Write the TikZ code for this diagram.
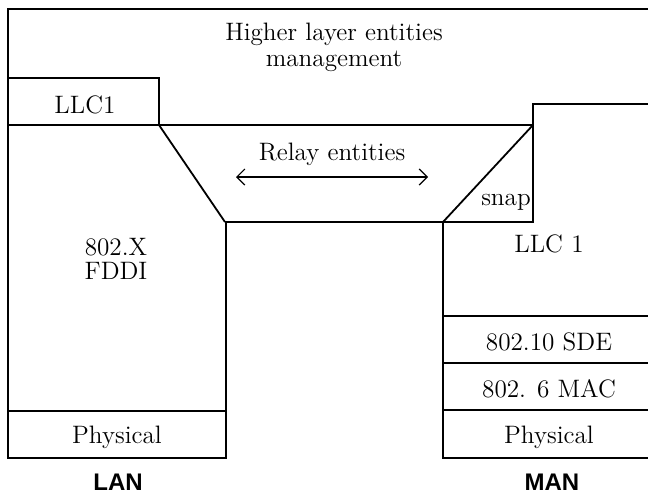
\documentclass[tikz,border=0pt]{standalone}
\usepackage{fontspec}
\newfontfamily\labfont{Liberation Sans}
\usetikzlibrary{arrows.meta}
\begin{document}
\begin{tikzpicture}[x=0.5pt,y=-0.5pt,
  frame/.style={line width=0.9pt,line join=miter},
  txt/.style={inner sep=0pt,anchor=base,font=\fontsize{12.6}{15}\selectfont},
  lab/.style={inner sep=0pt,anchor=base,font=\labfont\bfseries\fontsize{12}{14}\selectfont},
  relay/.style={line width=0.6pt,{Straight Barb[length=4pt,width=8pt]}-{Straight Barb[length=4pt,width=8pt]}}]
\useasboundingbox (0,0) rectangle (648,493);
% outer frame and layers
\draw[frame] (651,9) -- (8,9) -- (8,458) -- (226,458) -- (226,222) -- (533,222) -- (533,104) -- (651,104);
\draw[frame] (8,78) -- (159,78) -- (159,125);
\draw[frame] (8,125) -- (533,125);
\draw[frame] (159,125) -- (225,222);
\draw[frame] (533,125) -- (443,222);
\draw[frame] (8,411) -- (226,411);
\draw[frame] (443,222) -- (443,458) -- (651,458);
\draw[frame] (443,316) -- (651,316);
\draw[frame] (443,363) -- (651,363);
\draw[frame] (443,410) -- (651,410);
% texts
\node[txt] (hl1) at (334,40) {Higher layer entities};
\node[txt] (hl2) at (334,66) {management};
\node[txt] (llc1) at (85,113) {LLC1};
\node[txt] (relay) at (332,160) {Relay entities};
\node[txt] (snap) at (506,205) {snap};
\node[txt] (x802) at (116,255) {802.X};
\node[txt] (fddi) at (116,279) {FDDI};
\node[txt] (llcman) at (549,252) {LLC 1};
\node[txt] (sde) at (549,350) {802.10 SDE};
\node[txt] (mac) at (549,397) {802. 6 MAC};
\node[txt] (phyl) at (117,443) {Physical};
\node[txt] (phym) at (549,443) {Physical};
\node[lab] (lan) at (118,490) {LAN};
\node[lab] (man) at (552,490) {MAN};
% relay arrow
\coordinate (ra) at (236,177);
\coordinate (rb) at (428,177);
\draw[relay] (ra) -- (rb);
\end{tikzpicture}
\end{document}
